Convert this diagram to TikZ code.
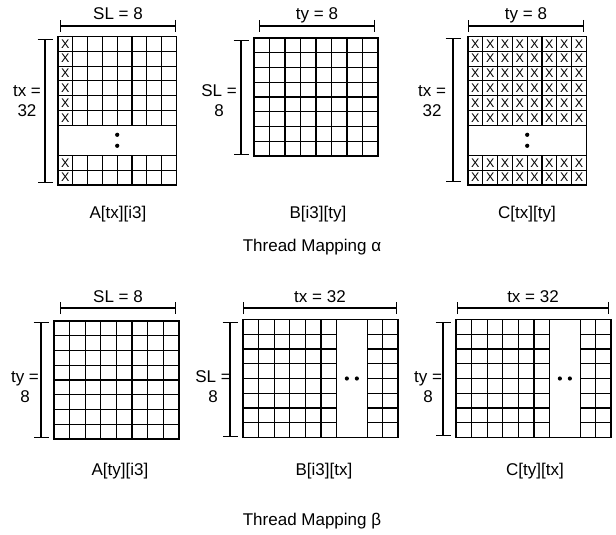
\documentclass[tikz,border=0pt]{standalone}
\usepackage{fontspec}
\setmainfont{Liberation Sans}
\usetikzlibrary{arrows.meta}

\begin{document}
\begin{tikzpicture}[x=1pt, y=-1pt,
    lbl/.style={font=\fontsize{17}{20}\selectfont, inner sep=0pt},
    captxt/.style={font=\fontsize{17}{20}\selectfont, inner sep=0pt, anchor=base},
    xmark/.style={font=\fontsize{12.5}{13}\selectfont, inner sep=0pt},
    cellline/.style={line width=1.15pt},
    gridframe/.style={line width=1.8pt},
    dimh/.style={line width=1.2pt, {Bar[width=12pt]}-{Bar[width=12pt]}},
    dimv/.style={line width=1.2pt, {Bar[width=15pt]}-{Bar[width=15pt]}}]
  \useasboundingbox (0,0) rectangle (616,535);
  \newcommand{\sqgrid}[4]{%
    \begin{scope}[shift={(#1,#2)}]
      \foreach \i in {1,...,7} {
        \draw[cellline] ({\i*#3},0) -- ({\i*#3},{8*#4});
        \draw[cellline] (0,{\i*#4}) -- ({8*#3},{\i*#4});}
      \draw[gridframe] (0,0) rectangle ({8*#3},{8*#4});
    \end{scope}}
  \newcommand{\tallgrid}[6]{% x0, y0, cell, gap, columns with X, name
    \begin{scope}[shift={(#1,#2)}]
      \foreach \i in {1,...,7}
        \draw[cellline] ({\i*#3},0) -- ({\i*#3},{6*#3})
                        ({\i*#3},{6*#3+#4}) -- ({\i*#3},{8*#3+#4});
      \foreach \j in {1,...,6}
        \draw[cellline] (0,{\j*#3}) -- ({8*#3},{\j*#3});
      \draw[cellline] (0,{6*#3+#4}) -- ({8*#3},{6*#3+#4})
                      (0,{7*#3+#4}) -- ({8*#3},{7*#3+#4});
      \draw[gridframe] (0,0) rectangle ({8*#3},{8*#3+#4});
      \foreach \c in {1,...,#5}
        \foreach \r in {0,...,7} {
          \pgfmathsetmacro\yy{(\r+0.5)*#3+(\r>5)*#4}
          \node[xmark] (#6-\c-\r) at ({(\c-0.5)*#3},\yy) {X};}
      \fill ({4*#3},{6*#3+#4/2-5.5}) circle (2.1)
            ({4*#3},{6*#3+#4/2+5.5}) circle (2.1);
    \end{scope}}
  \newcommand{\widegrid}[5]{% x0, y0, dx, dy, gap
    \begin{scope}[shift={(#1,#2)}]
      \foreach \i in {1,...,6}
        \draw[cellline] ({\i*#3},0) -- ({\i*#3},{8*#4});
      \draw[cellline] ({6*#3+#5},0) -- ({6*#3+#5},{8*#4})
                      ({7*#3+#5},0) -- ({7*#3+#5},{8*#4});
      \foreach \j in {1,...,7}
        \draw[cellline] (0,{\j*#4}) -- ({6*#3},{\j*#4})
                        ({6*#3+#5},{\j*#4}) -- ({8*#3+#5},{\j*#4});
      \draw[gridframe] (0,0) rectangle ({8*#3+#5},{8*#4});
      \fill ({6*#3+#5/2-5},{4*#4}) circle (2.1)
            ({6*#3+#5/2+5},{4*#4}) circle (2.1);
    \end{scope}}

  \tallgrid{58}{36.5}{14.8}{30}{1}{xa}
  \sqgrid{254}{38}{15.5}{14.75}
  \tallgrid{468}{36.5}{14.8}{30}{8}{xc}

  \draw[dimh] (60,26) -- (176,26);
  \draw[dimh] (259,26) -- (375,26);
  \draw[dimh] (468,26) -- (584,26);
  \node[captxt] (topA) at (118,20) {SL = 8};
  \node[captxt] (topB) at (317,20) {ty = 8};
  \node[captxt] (topC) at (526,20) {ty = 8};

  \draw[dimv] (45,39) -- (45,183);
  \draw[dimv] (241,40) -- (241,155);
  \draw[dimv] (453,38) -- (453,182);
  \node[lbl, align=center] (sideA) at (27,101) {tx =\\32};
  \node[lbl, align=center] (sideB) at (219,101) {SL =\\8};
  \node[lbl, align=center] (sideC) at (432,101) {tx =\\32};

  \node[captxt] (nameA) at (118,218) {A[tx][i3]};
  \node[captxt] (nameB) at (318,218) {B[i3][ty]};
  \node[captxt] (nameC) at (527,218) {C[tx][ty]};
  \node[captxt] (alpha) at (312,251) {Thread Mapping α};

  \sqgrid{54}{321}{15.6}{14.75}
  \widegrid{243}{319.5}{15.6}{14.75}{30.5}
  \widegrid{456}{319.5}{15.6}{14.75}{30.5}

  \draw[dimh] (60,308) -- (176,308);
  \draw[dimh] (243,308) -- (397,308);
  \draw[dimh] (457,308) -- (609,308);
  \node[captxt] (botA) at (118,302) {SL = 8};
  \node[captxt] (botB) at (320,302) {tx = 32};
  \node[captxt] (botC) at (533,302) {tx = 32};

  \draw[dimv] (41,322) -- (41,438);
  \draw[dimv] (230,322) -- (230,437);
  \draw[dimv] (443,322) -- (443,436);
  \node[lbl, align=center] (sideD) at (25,387) {ty =\\8};
  \node[lbl, align=center] (sideE) at (213,387) {SL =\\8};
  \node[lbl, align=center] (sideF) at (428,387) {ty =\\8};

  \node[captxt] (nameD) at (120,475) {A[ty][i3]};
  \node[captxt] (nameE) at (324,475) {B[i3][tx]};
  \node[captxt] (nameF) at (535,475) {C[ty][tx]};
  \node[captxt] (beta) at (312,525) {Thread Mapping β};
\end{tikzpicture}
\end{document}
